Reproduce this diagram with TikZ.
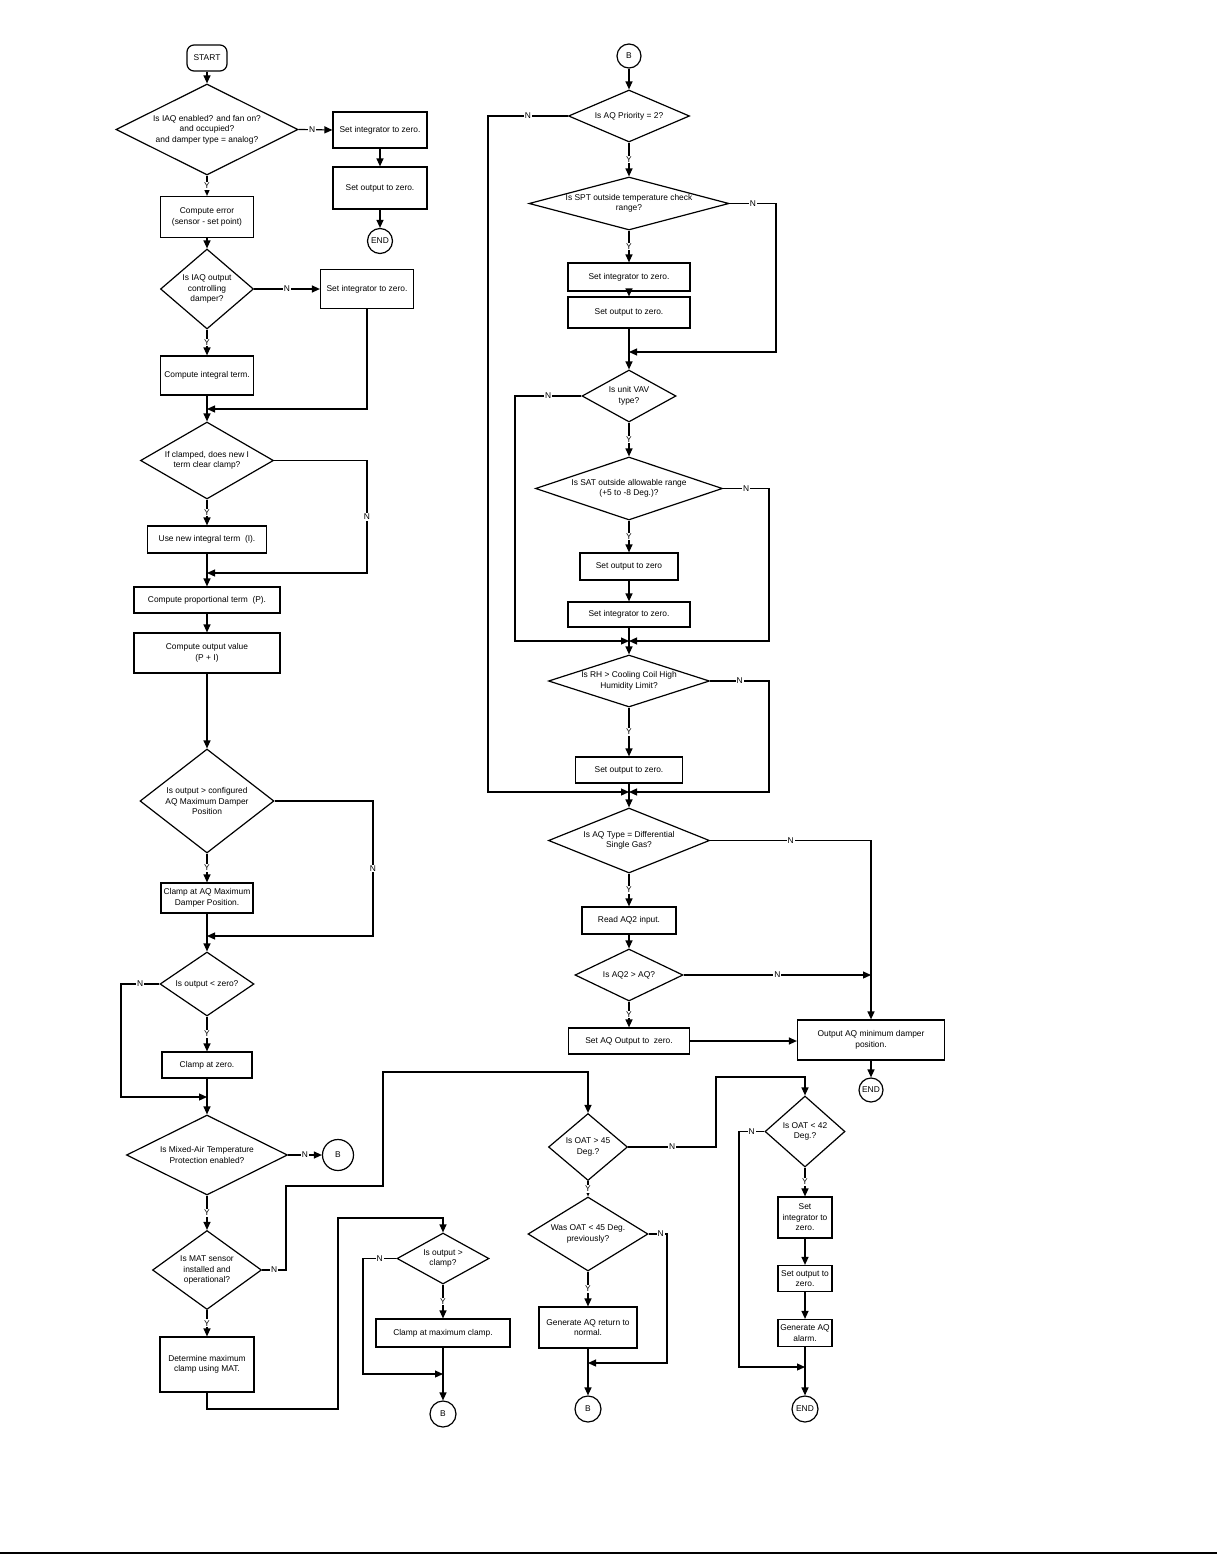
\documentclass[tikz,border=0pt]{standalone}
\usepackage{fontspec}
\setmainfont{Liberation Sans}
\usepackage{tikz}
\usetikzlibrary{arrows.meta,
                shapes.geometric}

\tikzset{
  every node/.style={font=\fontsize{8.4}{10.5}\selectfont},
  box/.style 2 args={draw, rectangle, inner sep=1pt, align=center,
                     minimum width=#1, minimum height=#2},
  dec/.style n args={3}{diamond, draw, inner sep=0pt,
                        minimum width=#1, minimum height=#2,
                        label={[align=center]center:{#3}}},
  roundel/.style={draw, circle, inner sep=0pt, minimum size=#1},
  arr/.style={-{Triangle[length=8pt,width=7pt]}},
  lbl/.style={fill=white, inner sep=1pt}
}

\begin{document}
\begin{tikzpicture}[x=1pt, y=-1pt, line width=1.2pt]
\useasboundingbox (0,0) rectangle (1217,1555);

% left column
\node[draw, rounded corners=7pt, minimum width=40, minimum height=26] (start) at (207,58) {START};
\node[dec={182}{91}{Is IAQ enabled? and fan on?\\and occupied?\\and damper type = analog?}] (d1) at (207,129.5) {};
\node[box={94}{36}] (s1) at (380,130) {Set integrator to zero.};
\node[box={94}{42}] (s2) at (380,188) {Set output to zero.};
\node[roundel=25] (e1) at (380,241) {END};
\node[box={93}{41}] (c1) at (207,217) {Compute error\\(sensor - set point)};
\node[dec={93}{80}{Is IAQ output\\controlling\\damper?}] (d2) at (207,289) {};
\node[box={93}{39}] (s3) at (367,289) {Set integrator to zero.};
\node[box={93}{39}] (c2) at (207,375.5) {Compute integral term.};
\node[dec={133}{77}{If clamped, does new I\\term clear clamp?}] (d3) at (207,460.5) {};
\node[box={119}{27}] (c3) at (207,539.5) {Use new integral term~~(I).};
\node[box={146}{26}] (c4) at (207,600) {Compute proportional term~~(P).};
\node[box={146}{40}] (c5) at (207,653) {Compute output value\\(P + I)};
\node[dec={134}{104}{Is output > configured\\AQ Maximum Damper\\Position}] (d4) at (207,801) {};
\node[box={92}{30}] (c6) at (207,898) {Clamp at AQ Maximum\\Damper Position.};
\node[dec={94}{64}{Is output < zero?}] (d5) at (207,984) {};
\node[box={90}{26}] (c7) at (207,1065) {Clamp at zero.};
\node[dec={161}{80}{Is Mixed-Air Temperature\\Protection enabled?}] (d6) at (207,1155) {};
\node[roundel=31] (b1) at (338,1155) {B};
\node[dec={109}{79}{Is MAT sensor\\installed and\\operational?}] (d7) at (207,1270) {};
\node[box={94}{55}] (c8) at (207,1364.5) {Determine maximum\\clamp using MAT.};
\node[dec={92}{51}{Is output >\\clamp?}] (d9) at (443,1258.5) {};
\node[box={134}{28}] (c9) at (443,1333) {Clamp at maximum clamp.};
\node[roundel=26] (b2) at (443,1414) {B};

\coordinate (j1) at (207,409);
\coordinate (j2) at (207,573);
\coordinate (j3) at (207,936);
\coordinate (j4) at (207,1097);
\coordinate (j5) at (443,1374);
\coordinate (h3) at (367,460.5);
\coordinate (h4) at (373,801);
\coordinate (h5) at (121,984);
\coordinate (p1) at (286,1270);
\coordinate (p2) at (383,1186);
\coordinate (p3) at (588,1072);
\coordinate (q1) at (338,1409);
\coordinate (q2) at (443,1218);
\coordinate (q3) at (363,1258.5);

% right column
\node[roundel=24] (b3) at (629,56) {B};
\node[dec={121}{52}{Is AQ Priority = 2?}] (d10) at (629,116) {};
\node[dec={200}{53}{Is SPT outside temperature check\\range?}] (d11) at (629,203.5) {};
\node[box={122}{28}] (r1) at (629,277) {Set integrator to zero.};
\node[box={122}{31}] (r2) at (629,312.5) {Set output to zero.};
\node[dec={94}{52}{Is unit VAV\\type?}] (d12) at (629,396) {};
\node[dec={187}{63}{Is SAT outside allowable range\\(+5 to -8 Deg.)?}] (d13) at (629,488.5) {};
\node[box={98}{27}] (r3) at (629,566.5) {Set output to zero};
\node[box={122}{25}] (r4) at (629,614.5) {Set integrator to zero.};
\node[dec={161}{52}{Is RH > Cooling Coil High\\Humidity Limit?}] (d14) at (629,681) {};
\node[box={107}{26}] (r5) at (629,770) {Set output to zero.};
\node[dec={161}{65}{Is AQ Type = Differential\\Single Gas?}] (d15) at (629,840.5) {};
\node[box={94}{27}] (r6) at (629,920.5) {Read AQ2 input.};
\node[dec={108}{52}{Is AQ2 > AQ?}] (d16) at (629,975) {};
\node[box={121}{26}] (r7) at (629,1041) {Set AQ Output to~~zero.};
\node[box={147}{40}] (o1) at (871,1040) {Output AQ minimum damper\\position.};
\node[roundel=24] (e2) at (871,1090) {END};

\coordinate (j6) at (629,352);
\coordinate (j7) at (629,641);
\coordinate (j8) at (629,792);
\coordinate (j9) at (871,975);
\coordinate (n1) at (488,116);
\coordinate (n2) at (776,203.5);
\coordinate (n3) at (515,396);
\coordinate (n4) at (769,488.5);
\coordinate (n5) at (769,681);
\coordinate (n6) at (871,840.5);

% bottom right
\node[dec={79}{67}{Is OAT > 45\\Deg.?}] (d17) at (588,1147) {};
\node[dec={120}{74}{Was OAT < 45 Deg.\\previously?}] (d18) at (588,1234) {};
\node[box={98}{41}] (g1) at (588,1327.5) {Generate AQ return to\\normal.};
\node[roundel=26] (b4) at (588,1409) {B};
\node[dec={80}{71}{Is OAT < 42\\Deg.?}] (d19) at (805,1131.5) {};
\node[box={54}{41}] (g2) at (805,1217.5) {Set\\integrator to\\zero.};
\node[box={54}{26}] (g3) at (805,1278.5) {Set output to\\zero.};
\node[box={54}{27}] (g4) at (805,1333) {Generate AQ\\alarm.};
\node[roundel=26] (e3) at (805,1409) {END};

\coordinate (j10) at (588,1363);
\coordinate (j11) at (805,1367);
\coordinate (m1) at (716,1147);
\coordinate (m2) at (805,1077);
\coordinate (m3) at (667,1234);
\coordinate (m4) at (739,1131.5);

% straight arrows
\foreach \a/\b in {start/d1, s1/s2, s2/e1, c1/d2, c2/d3, c3/c4, c4/c5, c5/d4,
                   c6/d5, c7/d6, c9/b2, b3/d10, r1/r2, r2/d12, r3/r4, r4/d14,
                   r5/d15, r6/d16, o1/e2, g1/b4, g2/g3, g3/g4, g4/e3}
  \draw[arr] (\a.south) -- (\a.south |- \b.north);
\foreach \a/\b in {d1/c1, d2/c2, d3/c3, d4/c6, d5/c7, d6/d7, d7/c8, d9/c9,
                   d10/d11, d11/r1, d12/d13, d13/r3, d14/r5, d15/r6, d16/r7,
                   d17/d18, d18/g1, d19/g2}
  \draw[arr] (\a.south) -- node[lbl]{Y} (\a.south |- \b.north);

% N branches
\draw[arr] (d1.east) -- node[lbl, pos=0.4]{N} (s1.west);
\draw[arr] (d2.east) -- node[lbl]{N} (s3.west);
\draw[arr] (s3.south) |- (j1);
\draw[arr] (d3.east) -- (h3) |- node[lbl, pos=0.25]{N} (j2);
\draw[arr] (d4.east) -- (h4) |- node[lbl, pos=0.25]{N} (j3);
\draw[arr] (d5.west) -- node[lbl]{N} (h5) |- (j4);
\draw[arr] (d6.east) -- node[lbl]{N} (b1);
\draw[arr] (d7.east) -- node[lbl]{N} (p1) |- (p2) |- (p3) -- (d17.north);
\draw[arr] (c8.south) |- (q1) |- (q2) -- (d9.north);
\draw[arr] (d9.west) -- node[lbl]{N} (q3) |- (j5);

\draw[arr] (d10.west) -- node[lbl]{N} (n1) |- (j8);
\draw[arr] (d11.east) -- node[lbl]{N} (n2) |- (j6);
\draw[arr] (d12.west) -- node[lbl]{N} (n3) |- (j7);
\draw[arr] (d13.east) -- node[lbl]{N} (n4) |- (j7);
\draw[arr] (d14.east) -- node[lbl]{N} (n5) |- (j8);
\draw[arr] (d15.east) -- node[lbl]{N} (n6) -- (o1.north);
\draw[arr] (d16.east) -- node[lbl]{N} (j9);
\draw[arr] (r7.east) -- (r7.east -| o1.west);

\draw[arr] (d17.east) -- node[lbl]{N} (m1) |- (m2) -- (d19.north);
\draw[arr] (d18.east) -- node[lbl, pos=0.65]{N} (m3) |- (j10);
\draw[arr] (d19.west) -- node[lbl]{N} (m4) |- (j11);

% page rule
\draw (0,1553) -- (1217,1553);
\end{tikzpicture}
\end{document}
